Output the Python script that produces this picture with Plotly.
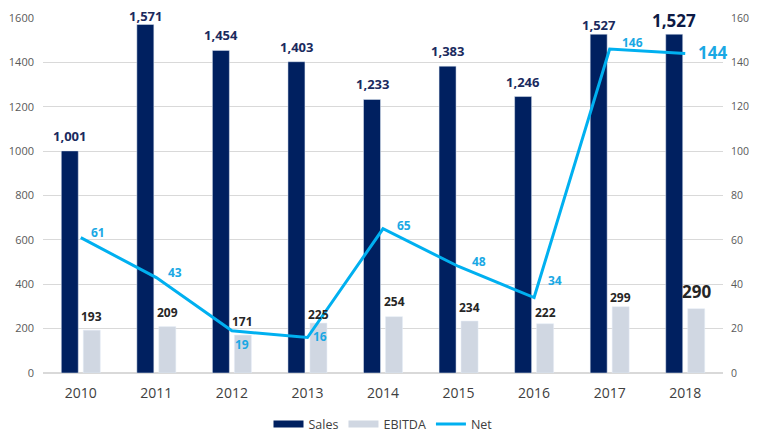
import plotly.graph_objects as go

years = ["2010", "2011", "2012", "2013", "2014", "2015", "2016", "2017", "2018"]
sales = [1001, 1571, 1454, 1403, 1233, 1383, 1246, 1527, 1527]
ebitda = [193, 209, 171, 225, 254, 234, 222, 299, 290]
net = [61, 43, 19, 16, 65, 48, 34, 146, 144]

NAVY = "#002060"
LIGHT = "#d0d7e2"
BLUE = "#00b0f0"
LBLUE_TXT = "#1aa8e4"
FONT = "Open Sans"

n = len(years)
xpos = list(range(n))
fig = go.Figure()
fig.add_trace(go.Bar(x=xpos, y=sales, name="Sales", marker_color=NAVY,
                     showlegend=False))
fig.add_trace(go.Bar(x=xpos, y=ebitda, name="EBITDA", marker_color=LIGHT,
                     showlegend=False))
fig.add_trace(go.Scatter(x=xpos, y=net, name="Net", mode="lines", yaxis="y2",
                         line=dict(color=BLUE, width=3), showlegend=False))

# legend swatches (wide, flat like the original)
fig.add_trace(go.Scatter(x=[None], y=[None], mode="lines", name="Sales",
                         line=dict(color=NAVY, width=7)))
fig.add_trace(go.Scatter(x=[None], y=[None], mode="lines", name="EBITDA",
                         line=dict(color=LIGHT, width=7)))
fig.add_trace(go.Scatter(x=[None], y=[None], mode="lines", name="Net",
                         line=dict(color=BLUE, width=3)))

# label placement (pixels)
sales_dy = [14, 7, 14, 14, 14, 14, 13.5, 8, 13]
ebit_dy = [13, 13.5, 13, 7.7, 14, 12.6, 10, 8.5, 16]
net_off = [(17, 4), (19, 4), (10, -14.5), (13, 0), (21, 2.5), (20, 4.5), (21, 16), (23, 6), (27, 0)]

for i in range(n):
    big = i == n - 1
    fig.add_annotation(
        x=xpos[i], y=sales[i], xref="x", yref="y", text=f"<b>{sales[i]:,}</b>",
        showarrow=False, xshift=-11, yshift=sales_dy[i] + 1, yanchor="middle",
        font=dict(family=FONT, color="#0d1a45" if big else "#1a2a5e", size=17 if big else 13),
    )
    fig.add_annotation(
        x=xpos[i], y=ebitda[i], xref="x", yref="y", text=f"<b>{ebitda[i]:,}</b>",
        showarrow=False, xshift=11, yshift=ebit_dy[i] + 1, yanchor="middle",
        font=dict(family=FONT, color="#262626", size=17 if big else 12),
    )
    dx, dy = net_off[i]
    fig.add_annotation(
        x=xpos[i], y=net[i], xref="x", yref="y2", text=f"<b>{net[i]}</b>",
        showarrow=False, xshift=dx, yshift=dy + 1, yanchor="middle",
        font=dict(family=FONT, color=LBLUE_TXT, size=17 if big else 12),
    )

# the page body adds an 8px margin on every side; size the figure to fit inside it
fig.update_layout(
    width=746, height=432,
    margin=dict(l=35, r=31, t=10, b=67, autoexpand=False),
    paper_bgcolor="white", plot_bgcolor="white",
    barmode="group", bargap=0.418, bargroupgap=0.227,
    font=dict(family=FONT, color="#595959", size=11),
    showlegend=True,
    legend=dict(orientation="h", x=0.5, xanchor="center", y=-0.145, yanchor="middle",
                font=dict(family=FONT, size=12.5, color="#404040"), traceorder="normal",
                itemwidth=30, tracegroupgap=0),
    xaxis=dict(range=[-0.5, n - 0.5], tickvals=xpos, ticktext=years,
               showgrid=False, showline=False, zeroline=False, ticks="",
               ticklabelstandoff=10,
               tickfont=dict(size=14, color="#404040")),
    yaxis=dict(range=[0, 1600], dtick=200, showgrid=True, gridcolor="#d9d9d9",
               zeroline=True, zerolinecolor="#d9d9d9", tickfont=dict(size=11),
               ticklabelstandoff=8),
    yaxis2=dict(range=[0, 160], dtick=20, overlaying="y", side="right",
                showgrid=False, zeroline=False, tickfont=dict(size=10.5),
                ticklabelstandoff=7),
)

fig.write_html("out.html")
